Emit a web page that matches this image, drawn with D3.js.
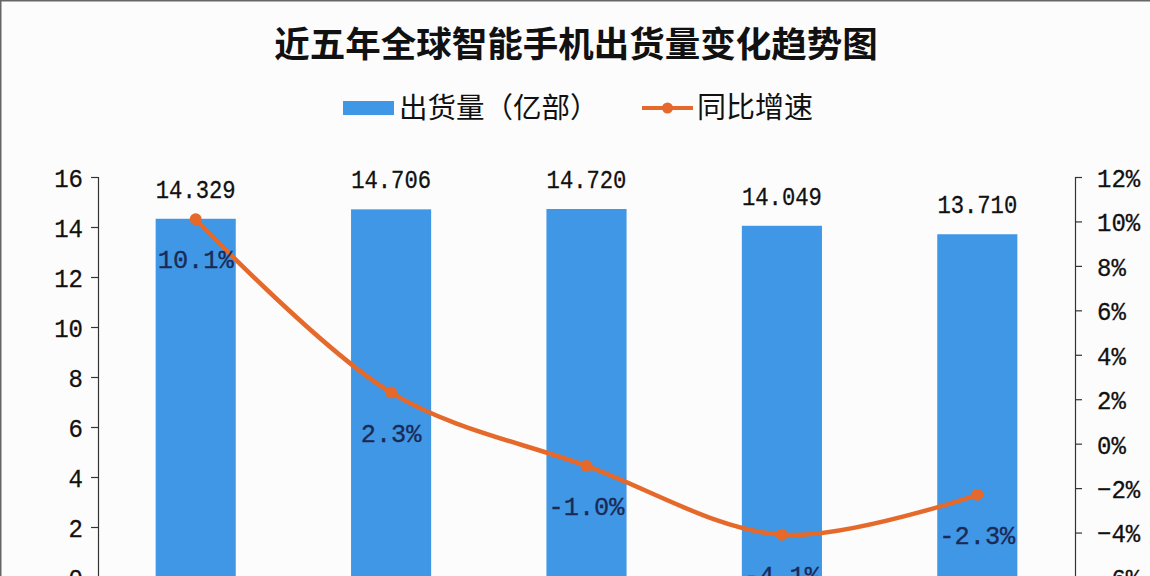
<!DOCTYPE html>
<html><head><meta charset="utf-8">
<script src="https://cdn.jsdelivr.net/npm/d3@7"></script>
<style>
html,body{margin:0;padding:0;background:#fdfcfd;overflow:hidden;}
svg{display:block;}
</style></head>
<body><svg id="c" width="1150" height="576"></svg>
<script>
const years = ["2015","2016","2017","2018","2019"];
const shipments = [14.329, 14.706, 14.720, 14.049, 13.710];
const growth = [10.1, 2.3, -1.0, -4.1, -2.3];
const leftTicks = [0,2,4,6,8,10,12,14,16];
const rightTicks = [-6,-4,-2,0,2,4,6,8,10,12];
const title = "近五年全球智能手机出货量变化趋势图";
const legendBar = "出货量（亿部）";
const legendLine = "同比增速";

const svg = d3.select("#c");
const W = 1150, H = 576;
const plot = {left: 98, right: 1075, top: 177, bottom: 577};
const barColor = "#3f97e6", lineColor = "#e5692b", labelColor = "#1b2a55";
const numFont = "'Liberation Mono', monospace";
const cjkFont = "'Noto Sans CJK SC', sans-serif";

// frame lines
svg.append("rect").attr("x",0).attr("y",0).attr("width",W).attr("height",H).attr("fill","#fdfcfd");
svg.append("line").attr("x1",0).attr("x2",W).attr("y1",0.75).attr("y2",0.75).attr("stroke","#666").attr("stroke-width",1.5);
svg.append("line").attr("x1",0.75).attr("x2",0.75).attr("y1",0).attr("y2",H).attr("stroke","#666").attr("stroke-width",1.5);

const x = d3.scaleBand().domain(years).range([plot.left, plot.right]).paddingInner(0.59).paddingOuter(0.295);
const yL = d3.scaleLinear().domain([0,16]).range([plot.bottom, plot.top]);
const yR = d3.scaleLinear().domain([-6,12]).range([plot.bottom, plot.top]);

// title
svg.append("text").attr("x",576).attr("y",57).attr("text-anchor","middle")
  .attr("font-family",cjkFont).attr("font-weight","bold").attr("font-size",35.5).attr("fill","#111")
  .text(title);

// legend
svg.append("rect").attr("x",343).attr("y",101).attr("width",51).attr("height",14).attr("fill",barColor);
svg.append("text").attr("x",399).attr("y",118).attr("font-family",cjkFont).attr("font-size",28.5).attr("fill","#111").text(legendBar);
svg.append("line").attr("x1",642).attr("x2",693).attr("y1",108).attr("y2",108).attr("stroke",lineColor).attr("stroke-width",4);
svg.append("circle").attr("cx",667.5).attr("cy",108).attr("r",5.5).attr("fill",lineColor);
svg.append("text").attr("x",697).attr("y",118).attr("font-family",cjkFont).attr("font-size",29).attr("fill","#111").text(legendLine);

// axes
const axL = d3.axisLeft(yL).tickValues(leftTicks).tickSize(7).tickPadding(8).tickFormat(d=>String(d));
const gL = svg.append("g").attr("transform",`translate(${plot.left},0)`).call(axL);
const axR = d3.axisRight(yR).tickValues(rightTicks).tickSize(7).tickPadding(15).tickFormat(d=>(d<0?"−":"")+Math.abs(d)+"%");
const gR = svg.append("g").attr("transform",`translate(${plot.right},0)`).call(axR);
[gL,gR].forEach(g=>{
  g.select(".domain").attr("stroke","#333").attr("stroke-width",1.2);
  g.selectAll(".tick line").attr("stroke","#333").attr("stroke-width",1.2);
  g.selectAll(".tick text").attr("font-family",numFont).attr("font-size",26).attr("fill","#111")
    .attr("dy","0.36em").attr("stroke","#111").attr("stroke-width",0.3)
    .attr("textLength",function(){return this.textContent.length*14.4;}).attr("lengthAdjust","spacingAndGlyphs");
});

// bars
svg.append("g").selectAll("rect").data(years).join("rect")
  .attr("x",d=>x(d)).attr("width",x.bandwidth())
  .attr("y",(d,i)=>yL(shipments[i])).attr("height",(d,i)=>yL(0)-yL(shipments[i]))
  .attr("fill",barColor);

// bar labels
svg.append("g").selectAll("text").data(years).join("text")
  .attr("x",d=>x(d)+x.bandwidth()/2).attr("y",(d,i)=>yL(shipments[i])-21)
  .attr("text-anchor","middle").attr("font-family",numFont).attr("font-size",25).attr("fill","#111")
  .attr("stroke","#111").attr("stroke-width",0.3)
  .text((d,i)=>shipments[i].toFixed(3))
  .attr("textLength",(d,i)=>shipments[i].toFixed(3).length*13.3).attr("lengthAdjust","spacingAndGlyphs");

// line
const pts = years.map((d,i)=>[x(d)+x.bandwidth()/2, yR(growth[i])]);
svg.append("path").attr("d",d3.line().curve(d3.curveCatmullRom.alpha(0.5))(pts))
  .attr("fill","none").attr("stroke",lineColor).attr("stroke-width",4.5).attr("stroke-linecap","round");
svg.append("g").selectAll("circle").data(pts).join("circle")
  .attr("cx",d=>d[0]).attr("cy",d=>d[1]).attr("r",6).attr("fill",lineColor);

// growth labels
svg.append("g").selectAll("text").data(years).join("text")
  .attr("x",d=>x(d)+x.bandwidth()/2).attr("y",(d,i)=>yR(growth[i])+49)
  .attr("text-anchor","middle").attr("font-family",numFont).attr("font-size",25).attr("fill",labelColor)
  .attr("stroke",labelColor).attr("stroke-width",0.3)
  .text((d,i)=>(growth[i]<0?"-":"")+Math.abs(growth[i]).toFixed(1)+"%")
  .attr("textLength",function(d,i){return this.textContent.length*15.2;}).attr("lengthAdjust","spacingAndGlyphs");
</script></body></html>
